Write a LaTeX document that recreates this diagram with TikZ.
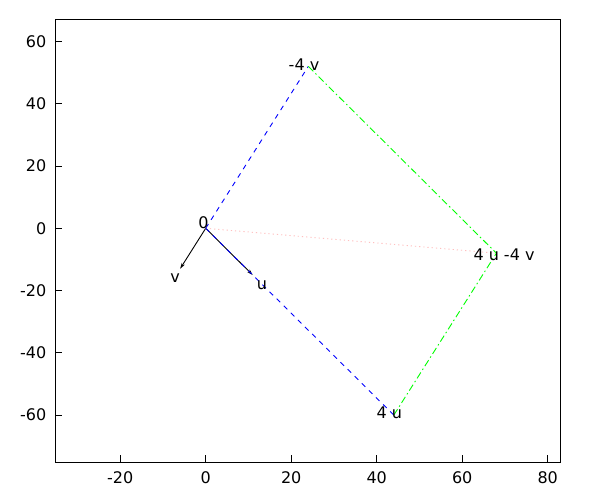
\documentclass[tikz,border=0pt]{standalone}
\usepackage{fontspec}
\setmainfont{DejaVu Sans}
\usetikzlibrary{arrows.meta}
\begin{document}
\begin{tikzpicture}[x=1pt,y=-1pt,
  every node/.style={inner sep=0pt,outer sep=0pt,font=\fontsize{16}{19}\selectfont},
  frame/.style={line width=1pt,black},
  tick/.style={line width=1pt,black},
  vecarrow/.style={line width=0.9pt,black,-{Stealth[length=6pt,width=3.5pt]}},
  blueline/.style={line width=0.9pt,blue,dash pattern=on 5pt off 5pt},
  greenline/.style={line width=0.9pt,green,dash pattern=on 7pt off 3pt on 1.5pt off 3pt},
  pinkline/.style={line width=0.9pt,pink,dash pattern=on 1.2pt off 3pt}]
\useasboundingbox (0,0) rectangle (600,500);
\fill[white] (0,0) rectangle (600,500);
% frame
\coordinate (bl) at (55.3,462.3);
\coordinate (tr) at (560.7,19.5);
\draw[frame] (bl) rectangle (tr);
% x ticks
\foreach \v in {-20,0,20,40,60,80}{
  \pgfmathsetmacro{\xx}{205.7+4.275*\v}
  \draw[tick] (\xx,462.3) -- (\xx,454.8);
  \node (xl\v) at (\xx,477.8) {\v};
}
% y ticks
\foreach \v in {60,40,20,0,-20,-40,-60}{
  \pgfmathsetmacro{\yy}{228.3-3.114*\v}
  \draw[tick] (55.3,\yy) -- (62.3,\yy);
  \node[anchor=east] (yl\v) at (46.3,\yy) {\v};
}
% data points
\coordinate (O) at (205.7,228.3);
\coordinate (U) at (252.7,275.0);
\coordinate (V) at (180.1,268.8);
\coordinate (FU) at (393.8,415.1);
\coordinate (MV) at (308.3,66.4);
\coordinate (W) at (496.4,253.2);
% lines
\draw[vecarrow] (O) -- (U);
\draw[vecarrow] (O) -- (V);
\draw[pinkline] (O) -- (W);
\draw[blueline] (O) -- (MV);
\draw[blueline] (O) -- (FU);
\draw[greenline] (MV) -- (W);
\draw[greenline] (FU) -- (W);
% labels
\node (lO) at (203.5,222.5) {0};
\node (lV) at (175,278.5) {v};
\node (lU) at (262,285) {u};
\node (lMV) at (304,64.7) {-4 v};
\node (lFU) at (389.3,413) {4 u};
\node (lW) at (504,254.8) {4 u -4 v};
\end{tikzpicture}
\end{document}
